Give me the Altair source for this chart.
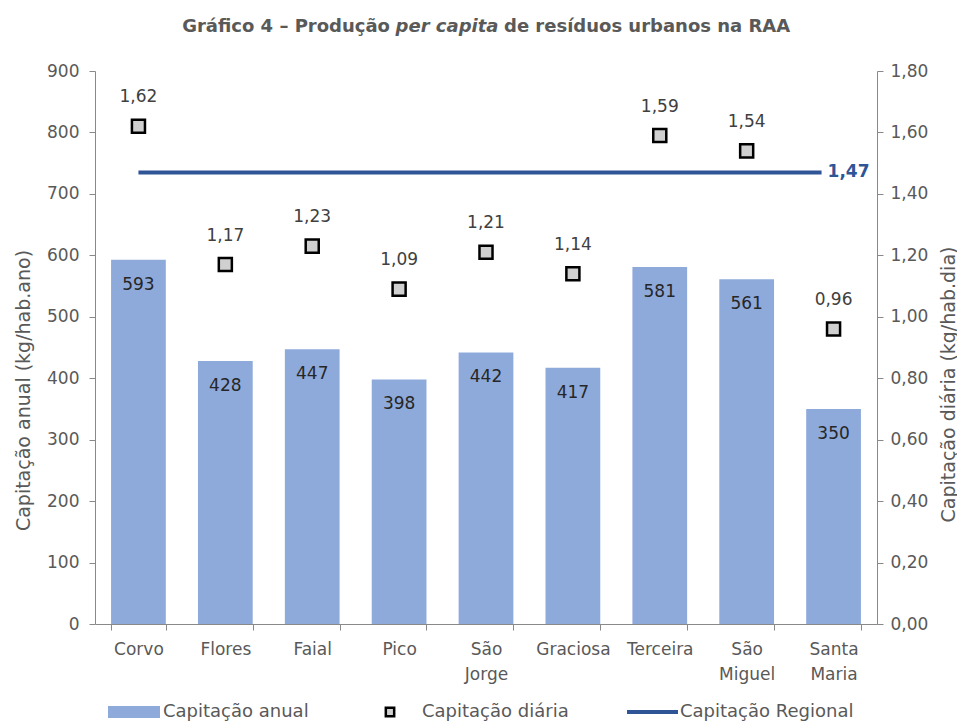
import altair as alt
import pandas as pd

islands = ["Corvo", "Flores", "Faial", "Pico", "São Jorge", "Graciosa", "Terceira", "São Miguel", "Santa Maria"]
annual = [593, 428, 447, 398, 442, 417, 581, 561, 350]
daily = [1.62, 1.17, 1.23, 1.09, 1.21, 1.14, 1.59, 1.54, 0.96]
regional = 1.47

FONT = "DejaVu Sans"
GRAY = "#595959"
AXC = "#898989"
LBL = 17

df = pd.DataFrame({
    "ilha": islands,
    "anual": annual,
    "diaria": daily,
    "anual_lbl": [str(v) for v in annual],
    "diaria_lbl": [f"{v:.2f}".replace(".", ",") for v in daily],
})
reg_df = pd.DataFrame({"ilha": [islands[0]], "x2": [islands[-1]], "v": [regional],
                       "lbl": [f"{regional:.2f}".replace(".", ",")]})

W, H = 782, 553
xscale = alt.Scale(domain=islands, paddingInner=0.37, paddingOuter=0.185)
xaxis = alt.Axis(title=None, tickBand="extent", labelAngle=0, labelFont=FONT, labelFontSize=LBL,
                 labelColor=GRAY, labelPadding=11, tickSize=6, tickColor=AXC, domainColor=AXC,
                 labelExpr="split(datum.label, ' ')", labelLineHeight=25, labelBaseline="top")
X = alt.X("ilha:N", scale=xscale, axis=xaxis, sort=islands)

yl_scale = alt.Scale(domain=[0, 900], nice=False, zero=True)
yr_scale = alt.Scale(domain=[0, 1.8], nice=False, zero=True)

left_axis = alt.Axis(title="Capitação anual (kg/hab.ano)", values=list(range(0, 901, 100)), grid=False,
                     labelFont=FONT, labelFontSize=LBL, labelColor=GRAY, labelPadding=10,
                     tickSize=6, tickColor=AXC, domainColor=AXC,
                     titleFont=FONT, titleFontSize=19, titleColor=GRAY, titleFontWeight="normal",
                     titleX=-72, titleY=319, titleAngle=270, titleAlign="center", titleBaseline="middle")
right_axis = alt.Axis(title="Capitação diária (kg/hab.dia)", orient="right",
                      values=[0, 0.2, 0.4, 0.6, 0.8, 1.0, 1.2, 1.4, 1.6, 1.8], grid=False,
                      labelExpr="replace(format(datum.value, '.2f'), '.', ',')",
                      labelFont=FONT, labelFontSize=LBL, labelColor=GRAY, labelPadding=7,
                      tickSize=6, tickColor=AXC, domainColor=AXC,
                      titleFont=FONT, titleFontSize=19, titleColor=GRAY, titleFontWeight="normal",
                      titleX=71, titleY=313, titleAngle=270, titleAlign="center", titleBaseline="middle")
YL = alt.Y("anual:Q", scale=yl_scale, axis=left_axis)
YR = alt.Y("diaria:Q", scale=yr_scale, axis=right_axis)

base = alt.Chart(df)
bars = base.mark_bar(color="#8eaadb").encode(x=X, y=YL)
bar_text = base.mark_text(font=FONT, fontSize=LBL, color="#262626", baseline="middle", dy=25).encode(
    x=X, y=YL, text="anual_lbl:N")
left = alt.layer(bars, bar_text)

points = base.mark_point(shape="square", size=170, filled=True, fill="#d0d0d0", stroke="#000000",
                         strokeWidth=2.5, opacity=1).encode(x=X, y=YR)
pt_text = base.mark_text(font=FONT, fontSize=LBL, color="#404040", baseline="middle", dy=-29).encode(
    x=X, y=YR, text="diaria_lbl:N")
YRv = alt.Y("v:Q", scale=yr_scale, axis=right_axis)
rule = alt.Chart(reg_df).mark_rule(color="#2f5597", strokeWidth=4, x2Offset=-12).encode(
    x=X, x2="x2:N", y=YRv)
rule_text = alt.Chart(reg_df).mark_text(font=FONT, fontSize=LBL, fontWeight="bold", color="#2f5597",
                                        align="left", baseline="middle", dx=-6).encode(
    x=alt.X("x2:N", scale=xscale, axis=xaxis, sort=islands), y=YRv, text="lbl:N")
right = alt.layer(points, pt_text, rule, rule_text)

# Title (three parts to italicise "per capita")
one = pd.DataFrame({"a": [0]})
TY = -44
TS = 18
t1 = alt.Chart(one).mark_text(text="Gráfico 4 – Produção", font=FONT, fontSize=TS, fontWeight="bold",
                              color=GRAY, align="right", baseline="middle").encode(
    x=alt.value(295), y=alt.value(TY))
t2 = alt.Chart(one).mark_text(text="per capita", font=FONT, fontSize=TS, fontWeight="bold",
                              fontStyle="italic", color=GRAY, align="center", baseline="middle").encode(
    x=alt.value(352), y=alt.value(TY))
t3 = alt.Chart(one).mark_text(text="de resíduos urbanos na RAA", font=FONT, fontSize=TS, fontWeight="bold",
                              color=GRAY, align="left", baseline="middle").encode(
    x=alt.value(409), y=alt.value(TY))

# Legend (manual)
LY = 641
LF = 18
lg_bar = alt.Chart(one).mark_rect(color="#8eaadb").encode(
    x=alt.value(13), x2=alt.value(65), y=alt.value(LY - 6), y2=alt.value(LY + 6))
lg_bar_t = alt.Chart(one).mark_text(text="Capitação anual", font=FONT, fontSize=LF, color=GRAY,
                                    align="left", baseline="middle").encode(x=alt.value(68), y=alt.value(LY))
lg_pt = alt.Chart(one).mark_point(shape="square", size=70, filled=True, fill="#d0d0d0", stroke="#000000",
                                  strokeWidth=2.5, opacity=1).encode(x=alt.value(295), y=alt.value(LY))
lg_pt_t = alt.Chart(one).mark_text(text="Capitação diária", font=FONT, fontSize=LF, color=GRAY,
                                   align="left", baseline="middle").encode(x=alt.value(327), y=alt.value(LY))
lg_ln = alt.Chart(one).mark_rule(color="#2f5597", strokeWidth=4).encode(
    x=alt.value(532), x2=alt.value(583), y=alt.value(LY))
lg_ln_t = alt.Chart(one).mark_text(text="Capitação Regional", font=FONT, fontSize=LF, color=GRAY,
                                   align="left", baseline="middle").encode(x=alt.value(585), y=alt.value(LY))

chart = alt.layer(left, right, t1, t2, t3, lg_bar, lg_bar_t, lg_pt, lg_pt_t, lg_ln, lg_ln_t).resolve_scale(
    y="independent"
).properties(
    width=W, height=H,
    autosize=alt.AutoSizeParams(type="none"),
    padding={"left": 87, "top": 63, "right": 80, "bottom": 98},
    background="white",
).configure_view(stroke=None)

chart.save("out.html", embed_options={"renderer": "svg", "actions": False})
